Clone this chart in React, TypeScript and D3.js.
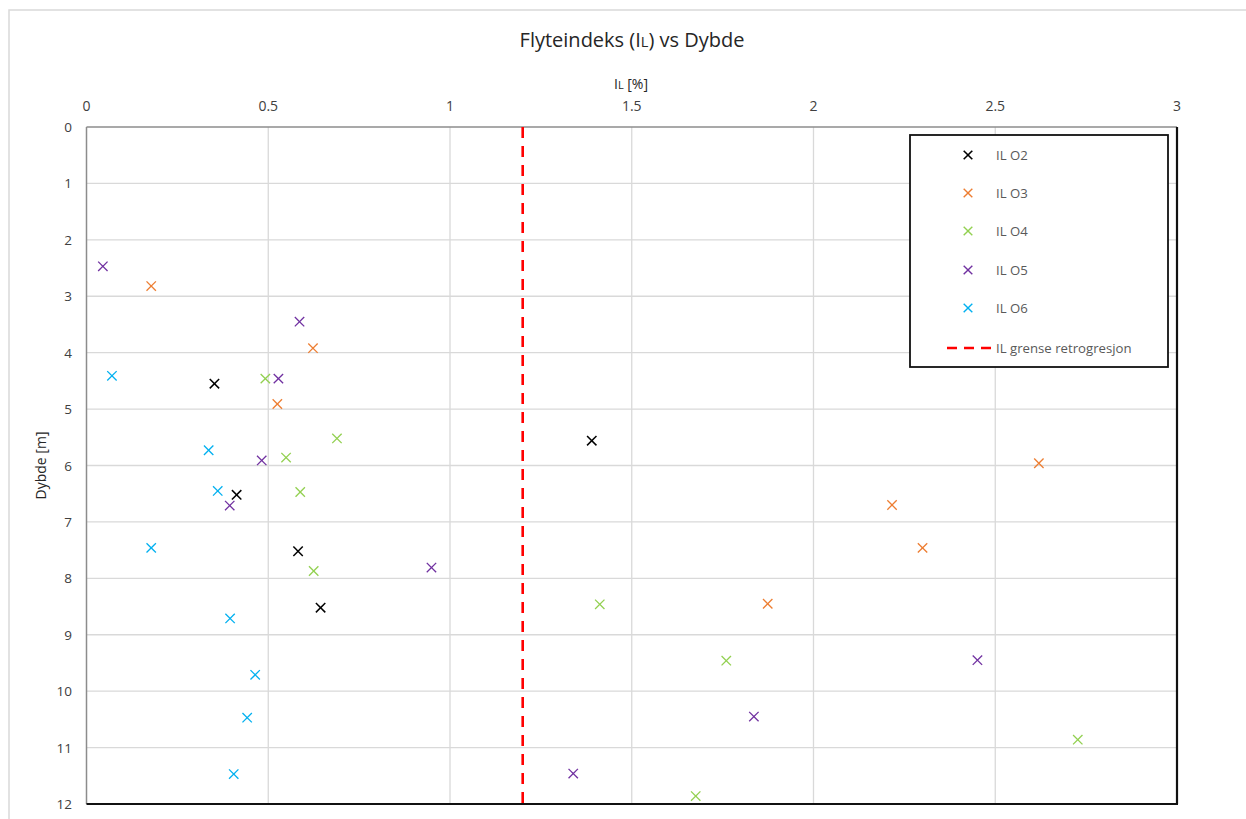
import React from "react";
import * as d3 from "d3";

const xTicks = [0, 0.5, 1, 1.5, 2, 2.5, 3];
const yTicks = [0, 1, 2, 3, 4, 5, 6, 7, 8, 9, 10, 11, 12];
const ilLimit = 1.2;

const o2X = [0.352, 1.39, 0.413, 0.582, 0.644];
const o2Y = [4.55, 5.56, 6.52, 7.52, 8.52];

const o3X = [0.178, 0.623, 0.525, 2.62, 2.216, 2.3, 1.874];
const o3Y = [2.82, 3.92, 4.91, 5.96, 6.7, 7.46, 8.45];

const o4X = [0.492, 0.689, 0.549, 0.588, 0.625, 1.412, 1.76, 2.727, 1.676];
const o4Y = [4.46, 5.52, 5.86, 6.47, 7.87, 8.46, 9.46, 10.86, 11.86];

const o5X = [0.045, 0.586, 0.528, 0.482, 0.394, 0.949, 2.451, 1.836, 1.339];
const o5Y = [2.47, 3.45, 4.46, 5.91, 6.71, 7.81, 9.45, 10.45, 11.46];

const o6X = [0.07, 0.336, 0.361, 0.178, 0.395, 0.464, 0.442, 0.405];
const o6Y = [4.41, 5.73, 6.45, 7.46, 8.71, 9.71, 10.47, 11.47];

const seriesNames = ["IL O2", "IL O3", "IL O4", "IL O5", "IL O6"];
const seriesColors = ["#000000", "#ED7D31", "#92D050", "#7030A0", "#00B0F0"];
const seriesX = [o2X, o3X, o4X, o5X, o6X];
const seriesY = [o2Y, o3Y, o4Y, o5Y, o6Y];
const limitName = "IL grense retrogresjon";

const W = 1246;
const H = 819;
const left = 86.5;
const right = 1177;
const top = 127;
const bottom = 804;
const FONT = "'Open Sans', 'Liberation Sans', sans-serif";

function Cross({ cx, cy, color, s = 4.7, w = 1.3 }: any) {
  return (
    <g stroke={color} strokeWidth={w}>
      <line x1={cx - s} y1={cy - s} x2={cx + s} y2={cy + s} />
      <line x1={cx - s} y1={cy + s} x2={cx + s} y2={cy - s} />
    </g>
  );
}

export default function App() {
  const x = d3.scaleLinear().domain([0, 3]).range([left, right]);
  const y = d3.scaleLinear().domain([0, 12]).range([top, bottom]);

  const legX = 910;
  const legY = 135;
  const legRowY = [155, 193, 231, 270, 308];

  return (
    <svg
      width={W}
      height={H}
      style={{ position: "absolute", left: 0, top: 0, background: "#fff" }}
      fontFamily={FONT}
    >
      <rect x={0} y={0} width={W} height={H} fill="#fff" />
      {/* outer chart border */}
      <rect x={9} y={10} width={W + 10} height={H + 10} fill="none" stroke="#d9d9d9" strokeWidth={1.5} />

      {/* title */}
      <text x={632} y={47} textAnchor="middle" fontSize={20} fill="#262626">
        Flyteindeks (I<tspan fontSize={14.5}>L</tspan>) vs Dybde
      </text>
      {/* x axis title */}
      <text x={631} y={89} textAnchor="middle" fontSize={14} fill="#262626">
        I<tspan fontSize={11}>L</tspan> [%]
      </text>

      {/* gridlines */}
      {xTicks.slice(1, -1).map((t) => (
        <line key={"gx" + t} x1={x(t)} x2={x(t)} y1={top} y2={bottom} stroke="#d9d9d9" strokeWidth={1.3} />
      ))}
      {yTicks.slice(1, -1).map((t) => (
        <line key={"gy" + t} x1={left} x2={right} y1={y(t)} y2={y(t)} stroke="#d9d9d9" strokeWidth={1.3} />
      ))}

      {/* axes / plot frame */}
      <line x1={left} x2={right} y1={top} y2={top} stroke="#8c8c8c" strokeWidth={1.5} />
      <line x1={left} x2={left} y1={top} y2={bottom} stroke="#8c8c8c" strokeWidth={1.5} />
      <line x1={left} x2={right + 1} y1={bottom} y2={bottom} stroke="#111" strokeWidth={2.2} />
      <line x1={right} x2={right} y1={top} y2={bottom} stroke="#111" strokeWidth={2.2} />

      {/* x tick labels */}
      {xTicks.map((t) => (
        <text key={"xt" + t} x={x(t)} y={111} textAnchor="middle" fontSize={14} fill="#404040">
          {String(t)}
        </text>
      ))}
      {/* y tick labels */}
      {yTicks.map((t) => (
        <text key={"yt" + t} x={72} y={y(t) + 5} textAnchor="end" fontSize={13.5} fill="#404040">
          {String(t)}
        </text>
      ))}
      {/* y axis title */}
      <text
        transform={`translate(46, ${(top + bottom) / 2}) rotate(-90)`}
        textAnchor="middle"
        fontSize={14}
        fill="#262626"
      >
        Dybde [m]
      </text>

      {/* limit line */}
      <line
        x1={x(ilLimit)}
        x2={x(ilLimit)}
        y1={top}
        y2={bottom}
        stroke="#FF0000"
        strokeWidth={2.6}
        strokeDasharray="11,8"
      />

      {/* data */}
      {seriesX.map((xs, si) =>
        xs.map((v, i) => (
          <Cross
            key={si + "-" + i}
            cx={x(v)}
            cy={y(seriesY[si][i])}
            color={seriesColors[si]}
            w={si === 0 ? 1.5 : 1.3}
          />
        ))
      )}

      {/* legend */}
      <rect x={legX} y={legY} width={258} height={232} fill="#fff" stroke="#111" strokeWidth={1.8} />
      {seriesNames.map((n, i) => (
        <g key={n}>
          <Cross cx={968} cy={legRowY[i]} color={seriesColors[i]} s={4.3} w={i === 0 ? 1.6 : 1.4} />
          <text x={996} y={legRowY[i] + 5} fontSize={13.2} fill="#595959">
            {n}
          </text>
        </g>
      ))}
      <line x1={947} x2={991} y1={348} y2={348} stroke="#FF0000" strokeWidth={2.6} strokeDasharray="10,7" />
      <text x={996} y={353} fontSize={13.2} fill="#595959">
        {limitName}
      </text>
    </svg>
  );
}
